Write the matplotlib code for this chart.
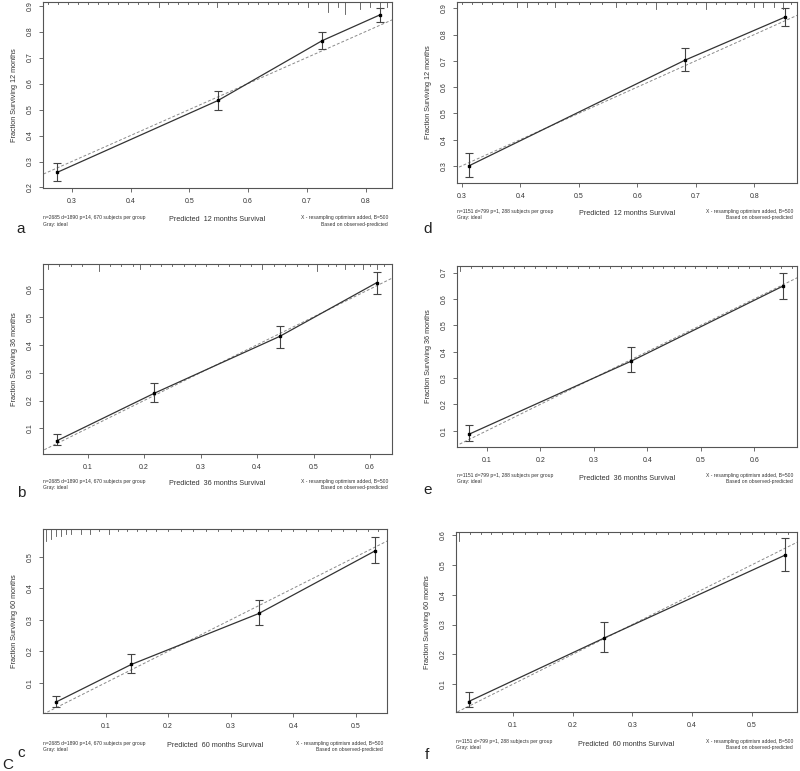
#!/usr/bin/env python3
"""
Calibration plots (rms::calibrate style) for 12, 36 and 60 month survival,
two cohorts side by side.
"""

import matplotlib
matplotlib.use("Agg")
import matplotlib.pyplot as plt
import matplotlib.transforms as mtransforms

plt.rcParams['font.family'] = ['Liberation Sans', 'DejaVu Sans']

W, H = 800, 771

# ---- data ----
# left cohort (n=2685), 4 groups
pred_a = [0.275, 0.549, 0.726, 0.824]
obs_a = [0.258, 0.535, 0.765, 0.864]
lo_a = [0.226, 0.497, 0.733, 0.838]
hi_a = [0.293, 0.573, 0.798, 0.890]

pred_b = [0.045, 0.218, 0.440, 0.612]
obs_b = [0.055, 0.226, 0.430, 0.623]
lo_b = [0.039, 0.194, 0.389, 0.583]
hi_b = [0.078, 0.262, 0.469, 0.662]

pred_c = [0.020, 0.141, 0.345, 0.530]
obs_c = [0.038, 0.158, 0.320, 0.518]
lo_c = [0.022, 0.130, 0.282, 0.479]
hi_c = [0.058, 0.191, 0.364, 0.564]

# right cohort (n=1151), 3 groups
pred_d = [0.313, 0.682, 0.852]
obs_d = [0.301, 0.703, 0.866]
lo_d = [0.257, 0.660, 0.832]
hi_d = [0.350, 0.750, 0.900]

pred_e = [0.067, 0.369, 0.654]
obs_e = [0.087, 0.363, 0.649]
lo_e = [0.062, 0.322, 0.599]
hi_e = [0.120, 0.418, 0.700]

pred_f = [0.026, 0.252, 0.555]
obs_f = [0.042, 0.254, 0.532]
lo_f = [0.023, 0.207, 0.479]
hi_f = [0.073, 0.308, 0.590]

# distribution of predicted values shown as spikes along the top
rug_a_x = [0.26, 0.277, 0.294, 0.311, 0.328, 0.345, 0.362, 0.379, 0.396, 0.413,
           0.43, 0.448, 0.464, 0.481, 0.498, 0.515, 0.532, 0.547, 0.566, 0.583,
           0.60, 0.617, 0.634, 0.651, 0.668, 0.685, 0.702, 0.719, 0.736, 0.753,
           0.765, 0.79, 0.807, 0.824, 0.836]
rug_a_h = [1, 1, 1, 1, 1, 1, 1, 1, 1, 1, 1, 2, 1, 1, 1, 1, 1, 2, 1, 1,
           1, 1, 1, 1, 1, 1, 2, 1, 4, 2, 5, 3, 2, 3, 2]

rug_b_x = [0.03, 0.05, 0.07, 0.09, 0.12, 0.14, 0.16, 0.18, 0.193, 0.21,
           0.23, 0.25, 0.27, 0.29, 0.31, 0.33, 0.35, 0.37, 0.39, 0.409,
           0.43, 0.45, 0.47, 0.49, 0.506, 0.525, 0.54, 0.556, 0.572, 0.588,
           0.60, 0.613, 0.625]
rug_b_h = [2, 1, 1, 1, 3, 1, 1, 1, 2, 1, 1, 1, 1, 1, 1, 1, 1, 1, 1, 2,
           1, 1, 1, 1, 3, 1, 1, 2, 1, 2, 1, 2, 1]

rug_c_x = [0.005, 0.012, 0.02, 0.028, 0.036, 0.045, 0.06, 0.075, 0.09, 0.105,
           0.12, 0.135, 0.15, 0.165, 0.18, 0.2, 0.22, 0.24, 0.26, 0.28,
           0.3, 0.32, 0.34, 0.36, 0.38, 0.40, 0.42, 0.44, 0.46, 0.48,
           0.50, 0.52, 0.535]
rug_c_h = [5, 4, 3, 3, 2, 2, 2, 2, 1, 2, 1, 1, 1, 1, 1, 1, 1, 1, 1, 1,
           1, 1, 1, 1, 1, 1, 1, 1, 1, 1, 1, 1, 1]

rug_d_x = [0.30, 0.318, 0.335, 0.352, 0.37, 0.395, 0.412, 0.43, 0.445, 0.46,
           0.48, 0.50, 0.52, 0.54, 0.563, 0.58, 0.60, 0.615, 0.632, 0.65,
           0.668, 0.685, 0.70, 0.718, 0.735, 0.75, 0.77, 0.785, 0.80, 0.815,
           0.834, 0.849, 0.862]
rug_d_h = [1, 1, 1, 1, 1, 2, 2, 1, 1, 2, 1, 1, 1, 1, 2, 1, 1, 1, 3, 1,
           1, 1, 1, 3, 1, 1, 1, 1, 2, 2, 2, 3, 1]

rug_e_x = [0.05, 0.07, 0.09, 0.11, 0.13, 0.15, 0.17, 0.19, 0.21, 0.23,
           0.25, 0.27, 0.29, 0.31, 0.33, 0.35, 0.37, 0.39, 0.41, 0.43,
           0.45, 0.47, 0.49, 0.51, 0.53, 0.55, 0.57, 0.59, 0.61, 0.63,
           0.65, 0.67]
rug_e_h = [2, 1, 1, 1, 1, 1, 1, 1, 1, 1, 1, 1, 1, 1, 1, 1, 1, 1, 1, 1,
           1, 1, 1, 1, 1, 1, 1, 1, 1, 1, 1, 1]

rug_f_x = [0.01, 0.028, 0.046, 0.064, 0.082, 0.10, 0.12, 0.14, 0.16, 0.18,
           0.20, 0.22, 0.24, 0.26, 0.28, 0.30, 0.32, 0.34, 0.36, 0.38,
           0.40, 0.42, 0.44, 0.46, 0.48, 0.50, 0.52, 0.54, 0.56]
rug_f_h = [4, 1, 1, 1, 1, 1, 1, 1, 1, 1, 1, 1, 1, 1, 1, 1, 1, 1, 1, 1,
           1, 1, 1, 1, 1, 1, 1, 1, 1]

note_left_1 = "n=2685 d=1890 p=14, 670 subjects per group"
note_left_2 = "n=1151 d=799 p=1, 288 subjects per group"
note_right = ["X - resampling optimism added, B=500", "Based on observed-predicted"]

# panel: data, axes box in pixels (left, top, right, bottom), limits, ticks
panels = [
    dict(letter="a", months=12, pred=pred_a, obs=obs_a, lo=lo_a, hi=hi_a,
         rx=rug_a_x, rh=rug_a_h, note=note_left_1,
         box=(43, 2, 392, 188), xlim=(0.251, 0.845), ylim=(0.198, 0.914),
         xt=[0.3, 0.4, 0.5, 0.6, 0.7, 0.8], yt=[0.2, 0.3, 0.4, 0.5, 0.6, 0.7, 0.8, 0.9],
         foot=(217, 224), ylab_x=18, lpos=(21, 229)),
    dict(letter="b", months=36, pred=pred_b, obs=obs_b, lo=lo_b, hi=hi_b,
         rx=rug_b_x, rh=rug_b_h, note=note_left_1,
         box=(43, 264, 392, 454), xlim=(0.021, 0.639), ylim=(0.008, 0.690),
         xt=[0.1, 0.2, 0.3, 0.4, 0.5, 0.6], yt=[0.1, 0.2, 0.3, 0.4, 0.5, 0.6],
         foot=(481, 487), ylab_x=18, lpos=(21, 493)),
    dict(letter="c", months=60, pred=pred_c, obs=obs_c, lo=lo_c, hi=hi_c,
         rx=rug_c_x, rh=rug_c_h, note=note_left_1,
         box=(43, 529, 387, 713), xlim=(0.0, 0.5496), ylim=(0.004, 0.588),
         xt=[0.1, 0.2, 0.3, 0.4, 0.5], yt=[0.1, 0.2, 0.3, 0.4, 0.5],
         foot=(743, 749), ylab_x=18, lpos=(21, 753)),
    dict(letter="d", months=12, pred=pred_d, obs=obs_d, lo=lo_d, hi=hi_d,
         rx=rug_d_x, rh=rug_d_h, note=note_left_2,
         box=(457, 2, 797, 183), xlim=(0.292, 0.873), ylim=(0.235, 0.924),
         xt=[0.3, 0.4, 0.5, 0.6, 0.7, 0.8], yt=[0.3, 0.4, 0.5, 0.6, 0.7, 0.8, 0.9],
         foot=(211, 218), ylab_x=432, lpos=(428, 229)),
    dict(letter="e", months=36, pred=pred_e, obs=obs_e, lo=lo_e, hi=hi_e,
         rx=rug_e_x, rh=rug_e_h, note=note_left_2,
         box=(457, 266, 797, 447), xlim=(0.044, 0.680), ylim=(0.038, 0.725),
         xt=[0.1, 0.2, 0.3, 0.4, 0.5, 0.6], yt=[0.1, 0.2, 0.3, 0.4, 0.5, 0.6, 0.7],
         foot=(476, 482), ylab_x=432, lpos=(428, 490)),
    dict(letter="f", months=60, pred=pred_f, obs=obs_f, lo=lo_f, hi=hi_f,
         rx=rug_f_x, rh=rug_f_h, note=note_left_2,
         box=(456, 532, 797, 712), xlim=(0.005, 0.5755), ylim=(0.007, 0.610),
         xt=[0.1, 0.2, 0.3, 0.4, 0.5], yt=[0.1, 0.2, 0.3, 0.4, 0.5, 0.6],
         foot=(742, 748), ylab_x=431, lpos=(427, 755)),
]

fig = plt.figure(figsize=(W / 100, H / 100), dpi=100)


def fx(px):
    return px / W


def fy(py):
    return 1 - py / H


line_col = "#333333"
ideal_col = "#8a8a8a"
axis_col = "#555555"
text_col = "#333333"

for p in panels:
    l, t, r, b = p["box"]
    ax = fig.add_axes([fx(l), fy(b), (r - l) / W, (b - t) / H])
    ax.set_xlim(*p["xlim"])
    ax.set_ylim(*p["ylim"])

    # ideal line
    ax.plot([0, 1], [0, 1], linestyle=(0, (3, 2)), color=ideal_col, lw=0.7)
    # observed vs predicted with error bars
    yerr = [[o - lo for o, lo in zip(p["obs"], p["lo"])],
            [hi - o for o, hi in zip(p["obs"], p["hi"])]]
    ax.errorbar(p["pred"], p["obs"], yerr=yerr, fmt="s", color=line_col,
                ecolor="#444444", elinewidth=0.8, capsize=3, capthick=0.8,
                ms=1.8, mfc="black", mec="black")
    ax.plot(p["pred"], p["obs"], color=line_col, lw=0.9)

    # spikes hanging from the top
    trans = mtransforms.blended_transform_factory(ax.transData, ax.transAxes)
    for x, h in zip(p["rx"], p["rh"]):
        ax.plot([x, x], [1, 1 - 0.013 * h], color=axis_col, lw=0.6,
                transform=trans, clip_on=False)

    for s in ax.spines.values():
        s.set_color(axis_col)
        s.set_linewidth(0.8)
    ax.set_xticks(p["xt"])
    ax.set_yticks(p["yt"])
    ax.set_xticklabels([f"{v:g}" for v in p["xt"]])
    ax.set_yticklabels([f"{v:g}" for v in p["yt"]], rotation=90, va="center")
    ax.tick_params(direction="out", length=3, width=0.6, color=axis_col,
                   labelsize=5, pad=4, labelcolor=text_col)

    ax.set_xlabel(f"Predicted  {p['months']} months Survival", fontsize=5.2, color=text_col)
    ax.xaxis.set_label_coords(0.5, -(p["foot"][0] - 1 - b) / (b - t))
    ax.set_ylabel(f"Fraction Surviving {p['months']} months", fontsize=5.2, color=text_col)
    ax.yaxis.set_label_coords(-(l - p["ylab_x"]) / (r - l), 0.5)

    y1, y2 = p["foot"]
    fig.text(fx(l), fy(y1), p["note"], fontsize=3.6, color=text_col, va="center", ha="left")
    fig.text(fx(l), fy(y2), "Gray: ideal", fontsize=3.6, color=text_col, va="center", ha="left")
    fig.text(fx(r - 4), fy(y1), note_right[0], fontsize=3.6, color=text_col, va="center", ha="right")
    fig.text(fx(r - 4), fy(y2), note_right[1], fontsize=3.6, color=text_col, va="center", ha="right")

    lx, ly = p["lpos"]
    fig.text(fx(lx), fy(ly), p["letter"], fontsize=11, color="#222222", va="center", ha="center")

# stray capital letter under panel c in the original
fig.text(fx(8), fy(765), "C", fontsize=11, color="#222222", va="center", ha="center")

fig.savefig("out.png", dpi=100, facecolor="white")
